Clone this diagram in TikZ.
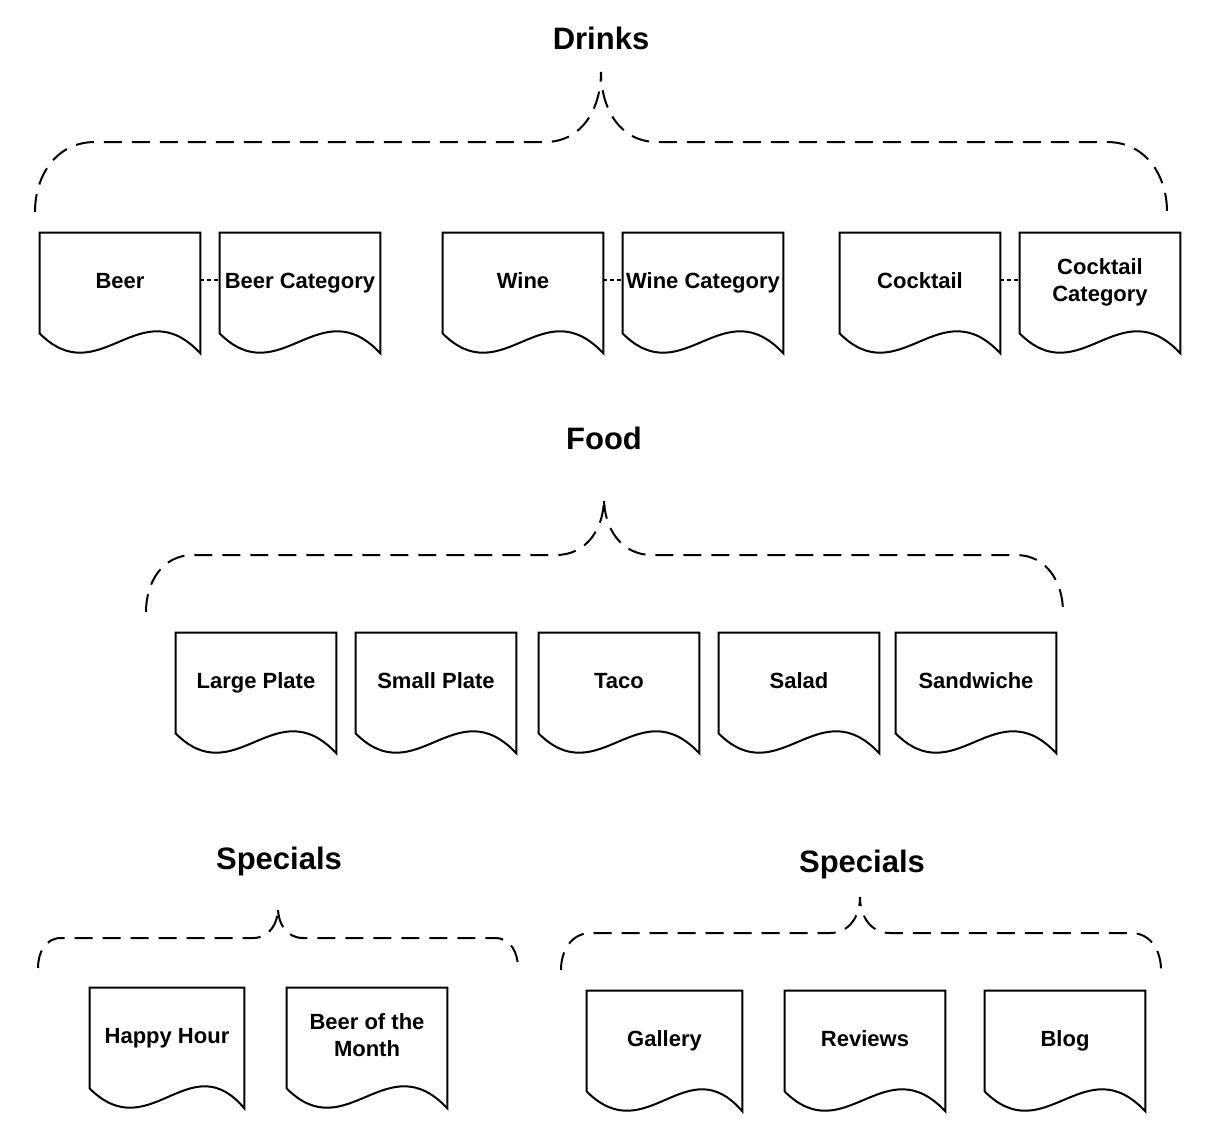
\documentclass[tikz,border=0pt]{standalone}
\usepackage{fontspec}
\setmainfont{Liberation Sans}
\usetikzlibrary{calc}

% curly bracket: xl, xm, xr, ytop, ymid, ybot, corner width, branch width
\newcommand{\menubrace}[8]{%
  \draw[bracket] (#1,#6) to[out=90,in=180] ({#1+#7},#5) -- ({#2-#8},#5)
    to[out=0,in=-90] (#2,#4) to[out=-90,in=180] ({#2+#8},#5) -- ({#3-#7},#5)
    to[out=0,in=90] (#3,#6);}

\begin{document}
\begin{tikzpicture}[
    x=0.5pt, y=-0.5pt,
    doc/.style={minimum width=80pt, minimum height=47pt, inner sep=0pt, align=center,
                text height=8pt, text depth=0pt,
                font=\bfseries\fontsize{11}{13.5}\selectfont},
    twoline/.style={text height=21.5pt},
    docline/.style={line width=1pt, line join=miter},
    heading/.style={font=\bfseries\fontsize{15.5}{18}\selectfont},
    bracket/.style={line width=1pt, dash pattern=on 9pt off 5pt, looseness=1.05},
    link/.style={line width=0.6pt, dash pattern=on 2pt off 1.5pt}
]
\useasboundingbox (0,0) rectangle (1216,1120);

% titles
\node[heading] (drinks) at (601,38) {Drinks};
\node[heading] (food) at (604,438) {Food};
\node[heading] (specialsl) at (279,861) {Specials};
\node[heading] (specialsr) at (862,864) {Specials};

% drinks
\node[doc] (beer) at (120,280) {Beer};
\node[doc] (beercat) at (300,280) {Beer Category};
\node[doc] (wine) at (523,280) {Wine};
\node[doc] (winecat) at (703,280) {Wine Category};
\node[doc] (cocktail) at (920,280) {Cocktail};
\node[doc, twoline] (cocktailcat) at (1100,280) {Cocktail\\Category};

% food
\node[doc] (large) at (256,680) {Large Plate};
\node[doc] (small) at (436,680) {Small Plate};
\node[doc] (taco) at (619,680) {Taco};
\node[doc] (salad) at (799,680) {Salad};
\node[doc] (sandwich) at (976,680) {Sandwiche};

% specials
\node[doc, minimum width=77pt] (happy) at (167,1035) {Happy Hour};
\node[doc, twoline] (beermonth) at (367,1035) {Beer of the\\Month};
\node[doc, minimum width=77.5pt] (gallery) at (664.5,1038) {Gallery};
\node[doc] (reviews) at (865,1038) {Reviews};
\node[doc] (blog) at (1065,1038) {Blog};

% document outlines
\foreach \n in {beer,beercat,wine,winecat,cocktail,cocktailcat,large,small,taco,salad,sandwich,happy,beermonth,gallery,reviews,blog}
  \draw[docline] (\n.north west) -- (\n.north east) -- ($(\n.south east)+(0,26)$)
    .. controls ($(\n.south west)+(100,-39)$) and ($(\n.south west)+(60,66)$) .. ($(\n.south west)+(0,6)$) -- cycle;

\draw[link] (beer) -- (beercat);
\draw[link] (wine) -- (winecat);
\draw[link] (cocktail) -- (cocktailcat);

% brackets
\menubrace{35}{601}{1167}{72}{142}{212}{60}{56}
\menubrace{146}{604}{1063}{498}{555}{612}{47}{48}
\menubrace{38}{278}{518}{908}{938}{968}{23}{25}
\menubrace{561}{860}{1161}{897}{933}{970}{30}{30}
\end{tikzpicture}
\end{document}
